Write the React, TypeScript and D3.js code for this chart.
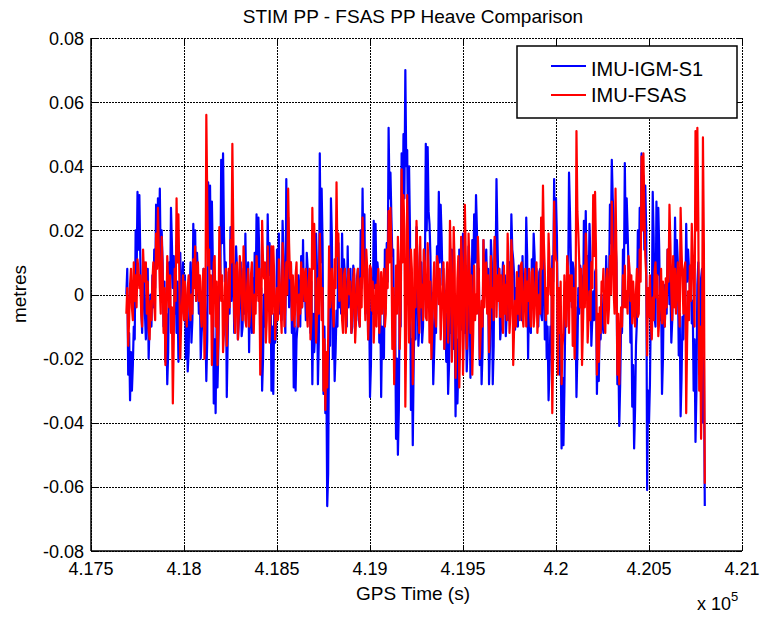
import React from 'react';
import * as d3 from 'd3';

// Time axis of the samples (GPS seconds)
const START_TIME = 417690;
const TIME_STEP = 10;
const MID_OFFSET = 5;

// Heave values in millimetres, samples at START_TIME + i*TIME_STEP
const stimHeaveMm = [
  0, -25, -33, -30, -10, 20, 32, 31, -4, 2, -6, -2, -20, 0, 6, 14, 28, 30, 33, 20,
  -10, -21, -28, 10, 27, 2, -6, -12, -21, 13, 2, -8, -20, -24, 0, -15, 22, 20, 13, -6,
  -20, -7, 3, -27, 35, 34, 29, -34, -37, -29, 7, 42, 44, 4, -32, 7, 21, 11, -12, 15,
  -14, 7, -13, 8, 19, 3, -18, -5, 5, 13, 25, 24, -15, -30, 0, 6, 25, 16, -30, -31,
  -15, 14, 19, 2, 23, -6, 36, 24, 9, -12, -29, -30, -10, 0, 12, 17, 4, 13, -5, -12,
  -28, -18, 19, -28, 44, 33, -31, -37, -66, -10, 30, -20, -27, -5, 16, 5, 19, 11, -5, 15,
  2, -12, 9, -10, 5, -8, 20, 33, 25, 5, -14, -32, 5, 23, 22, 10, -15, -32, -13, 14,
  16, 52, 38, 12, -17, -45, -50, 3, 44, 50, 70, 45, 40, -36, -47, -7, 21, -16, 3, -15,
  14, 47, 46, 22, -14, -28, -6, 15, 32, 28, 3, -17, -21, -31, -7, 14, -17, -38, -34, 14,
  -11, 19, -12, -24, 15, -26, 17, 25, 31, 0, -22, -28, 17, 9, 2, -28, 17, -28, 17, 36,
  3, -14, 4, 0, -13, -2, 10, 25, 11, -11, -7, 9, -6, 12, 2, 24, -20, -10, 11, 19,
  -2, -6, 7, -6, 16, -14, -20, -33, -10, 12, 36, 30, -12, -25, -48, -47, -7, 9, 38, 11,
  10, -12, -32, 2, 9, -2, 23, 26, 12, 22, -16, 1, 7, -31, -27, -14, -9, 1, 12, 7,
  28, 42, 24, 17, -28, -41, -9, 14, 41, 30, 8, -15, -35, -48, -16, 20, 27, 44, 37, 34,
  -61, -40, -4, 32, -7, 29, 27, -8, -31, 3, 1, 14, -3, -15, 9, 24, 17, -19, -38, -7,
  1, 22, 14, 1, -9, -30, -46, 3, -9, 5, -40, -66,
];
// samples at START_TIME + MID_OFFSET + i*TIME_STEP
const stimHeaveMidMm = [
  8, -12, -18, -22, -14, 4, 14, 12, -12, 10, -14, 8, -8, -10, -4, 2, 12, 14, 8, 10,
  4, -6, -18, -4, 16, 12, 6, 4, -12, -6, 10, 6, -4, -18, 10, -8, 4, -2, 6, 4,
  -12, 8, -8, -14, 10, 8, 10, -14, -8, -16, 0, 16, 18, 10, -14, -6, -2, 10, -6, 8,
  -8, 10, -10, -6, -2, 10, 2, -12, -6, -2, 6, 12, 2, -20, -10, -4, 6, 10, -10, -6,
  -12, 0, -6, -8, 12, -12, 8, -4, 10, 4, -10, -14, 6, -10, -4, -2, -8, 8, 6, 4,
  -6, -12, 8, -14, 10, 16, -10, -20, -56, -16, 18, -4, -18, -10, -4, -6, -2, 6, -10, -4,
  8, -10, 6, -8, 8, -10, 2, 8, -6, 8, 2, -22, -6, 2, 0, 6, 0, -10, -20, -4,
  4, 30, 24, 14, -4, -20, -36, -10, 20, 30, 40, 14, 20, -14, -20, -14, 10, -10, 10, -10,
  4, 20, 26, 12, 0, -18, -12, 4, 10, 18, 8, -2, -6, -22, -12, 8, -4, -14, -22, 10,
  -10, 10, 2, -16, 8, -14, 4, 10, 20, 8, -6, -18, 0, 14, 8, -16, 10, -16, 6, 18,
  8, -10, 10, 6, -6, -8, 2, 14, 6, 2, -10, 6, -8, -2, -4, 12, 0, -12, 2, 12,
  8, -10, 8, -8, 10, 2, -10, -24, -14, 4, 14, 18, 2, -14, -26, -30, -10, 0, 26, -4,
  8, -4, -18, -6, 6, -8, 8, 4, -2, 12, -8, -8, 8, -14, -8, 0, -12, -4, -2, 2,
  16, 30, 6, 10, -16, -28, -12, 4, 16, 20, 6, -4, -22, -36, -8, 4, 14, 26, 14, 20,
  -30, -28, -10, 18, -10, 6, 14, 0, -20, -10, -6, 8, 4, -8, -2, 6, 10, -6, -26, -14,
  -4, 4, 8, 6, -2, -14, -30, 10, -14, 8, -20,
];

const fsasHeaveMm = [
  -6, -16, 3, -4, 10, 6, 11, 2, -6, 14, 4, -6, -11, -2, 4, -3, 19, 27, 2, 18,
  -12, -22, 12, -4, -12, -34, 8, 30, 25, -20, -2, -8, -5, 2, -4, 0, 11, 15, 6, -2,
  -6, 4, -20, 56, 9, -6, -22, 10, -10, -22, 21, -2, -18, 2, -16, 8, 17, 47, -6, 9,
  -14, 12, -2, 15, -8, 3, -10, 6, -5, 0, 12, -2, -25, 23, 5, -15, 15, -15, 15, 15,
  -14, 2, 11, -5, 16, -10, 10, 33, 5, -8, -3, 6, -5, 0, 10, 8, -2, -5, 4, -14,
  27, 22, -15, 5, 19, -8, -30, -36, -29, 15, 2, -4, 11, 35, 19, 4, -8, 6, -12, 4,
  0, -12, 5, -15, 3, -6, 5, 24, 3, 14, -14, 9, -5, -15, 3, 3, -12, 7, 2, -10,
  14, 26, 27, -17, -28, 9, 18, -17, 39, 31, -35, 31, -15, 14, -28, 14, 23, -5, 18, 3,
  14, -7, 16, -15, -20, 2, -7, 12, -3, -14, 3, -17, 3, -15, 23, -21, 21, -26, 5, -29,
  18, -25, 28, -17, 19, -12, -25, 9, 0, 18, -20, -2, 17, 9, -6, -18, 12, 2, 18, -7,
  -2, -7, -5, 9, 3, 19, -12, 17, -22, -2, 7, 5, 9, -7, 2, -10, -2, -5, 7, -10,
  4, -12, 0, 24, 34, 7, 2, 19, 0, -37, 29, 11, -25, -12, -28, -12, -3, 12, -12, -2,
  -16, -20, 51, 19, -4, -22, 9, 19, -15, 1, 10, 31, 32, -25, -21, -12, 1, -9, 5, -9,
  12, 29, 1, 33, -25, -28, -4, 6, 9, 1, 12, -2, -9, -3, 1, -7, 14, 43, 44, 12,
  -19, -7, -9, -1, 7, -1, -13, 1, -9, -5, 5, 14, 28, 1, 12, 8, 2, -3, 27, 4,
  8, -37, 1, 9, 22, 1, 51, 52, -30, -45, 49, -59,
];
const fsasHeaveMidMm = [
  2, -8, 8, -8, -2, -4, 8, 6, -10, 6, 10, 4, -14, -8, 10, -8, 8, 14, -6, 8,
  2, -10, 4, 6, -4, -14, -2, 10, 6, -8, 6, 4, -10, 6, -8, -6, 2, -2, 10, 6,
  -10, 8, -10, 30, 14, 6, -8, 12, 4, -12, 8, 6, -12, 8, -6, -4, 10, 20, -12, 10,
  -6, 6, -8, 8, -10, 8, -6, 10, -12, -6, 6, 8, -12, 10, 10, -8, 6, -6, -6, 6,
  -6, -8, 4, -12, 8, -4, 0, 16, 10, 6, -10, 10, -10, -6, -4, 6, 8, -10, 8, -8,
  8, 10, -6, -6, 8, 2, -14, -18, -14, -4, 8, -10, 2, 12, -2, 8, -12, 8, -6, 8,
  4, -6, 8, -8, 8, -10, -4, 12, -8, 8, -6, 8, 4, -6, -10, 8, -6, -6, 8, -6,
  2, 10, 14, 2, -12, -6, 10, -4, 10, 20, -12, 14, -8, 8, -12, -4, 12, -12, -4, -8,
  10, -8, 8, 4, -10, 10, -10, 10, 8, -6, 10, -8, 10, -6, 10, -8, 10, -12, 12, -14,
  10, -10, 12, -8, 8, 6, -12, -8, -6, 8, -12, -10, -4, 10, 6, -8, -4, -8, 8, 6,
  8, 6, -12, -6, -8, 8, -6, 10, -10, -10, -6, -8, 10, -10, 8, 4, 8, -10, 8, -6,
  10, -6, -6, 8, 16, -8, -6, 10, 8, -16, 14, 10, 2, 4, -16, 6, -10, 8, 6, 6,
  2, -6, 26, 10, 8, -10, -4, 10, -8, -8, 2, 12, 14, -6, -4, 4, 8, -12, 8, -4,
  0, 14, -6, 12, -6, -14, -10, -4, -4, -6, 8, 6, 4, -10, 8, -6, 4, 20, 26, 6,
  2, 6, -14, -8, 10, 6, -8, 8, 4, -10, -4, 4, 16, -8, -4, -6, 10, -10, 14, -6,
  10, -14, -8, -2, 12, -10, 20, 24, -10, -20, 16,
];

const seriesNames = ['IMU-IGM-S1', 'IMU-FSAS'];
const seriesColors = ['#0000ff', '#ff0000'];

const xTickValues = [417500, 418000, 418500, 419000, 419500, 420000, 420500, 421000];
const xTickLabels = ['4.175', '4.18', '4.185', '4.19', '4.195', '4.2', '4.205', '4.21'];
const yTickValues = [-0.08, -0.06, -0.04, -0.02, 0, 0.02, 0.04, 0.06, 0.08];
const yTickLabels = ['-0.08', '-0.06', '-0.04', '-0.02', '0', '0.02', '0.04', '0.06', '0.08'];

const FONT = '"Liberation Sans", Arial, Helvetica, sans-serif';

type Pt = { t: number; v: number };

function mergeSamples(main: number[], mid: number[]): Pt[] {
  const out: Pt[] = [];
  main.forEach((v, i) => {
    out.push({ t: START_TIME + i * TIME_STEP, v });
    if (i < mid.length) out.push({ t: START_TIME + MID_OFFSET + i * TIME_STEP, v: mid[i] });
  });
  return out;
}

export default function App() {
  const W = 761;
  const H = 617;
  const L = 91;
  const R = 742;
  const T = 38;
  const B = 551;

  const x = d3.scaleLinear().domain([417500, 421000]).range([L, R]);
  const y = d3.scaleLinear().domain([-0.08, 0.08]).range([B, T]);
  const crisp = (p: number) => Math.round(p) + 0.5;

  const line = d3
    .line<Pt>()
    .x((d) => x(d.t))
    .y((d) => y(d.v / 1000));

  const series = [mergeSamples(stimHeaveMm, stimHeaveMidMm), mergeSamples(fsasHeaveMm, fsasHeaveMidMm)];
  const tickLen = 6;
  const dash = '2,1';

  return (
    <svg
      width={W}
      height={H}
      viewBox={`0 0 ${W} ${H}`}
      style={{ position: 'absolute', left: 0, top: 0, background: '#fff' }}
      fontFamily={FONT}
    >
      <rect x={0} y={0} width={W} height={H} fill="#fff" />
      {/* grid */}
      <g shapeRendering="crispEdges">
        {xTickValues.map((v, i) => (
          <line key={'gx' + i} x1={crisp(x(v))} x2={crisp(x(v))} y1={T} y2={B} stroke="#000" strokeWidth={1} strokeDasharray={dash} />
        ))}
        {yTickValues.map((v, i) => (
          <line key={'gy' + i} x1={L} x2={R} y1={crisp(y(v))} y2={crisp(y(v))} stroke="#000" strokeWidth={1} strokeDasharray={dash} />
        ))}
        {/* ticks */}
        {xTickValues.map((v, i) => (
          <g key={'tx' + i}>
            <line x1={crisp(x(v))} x2={crisp(x(v))} y1={B} y2={B - tickLen} stroke="#000" strokeWidth={1} />
            <line x1={crisp(x(v))} x2={crisp(x(v))} y1={T} y2={T + tickLen} stroke="#000" strokeWidth={1} />
          </g>
        ))}
        {yTickValues.map((v, i) => (
          <g key={'ty' + i}>
            <line x1={L} x2={L + tickLen} y1={crisp(y(v))} y2={crisp(y(v))} stroke="#000" strokeWidth={1} />
            <line x1={R} x2={R - tickLen} y1={crisp(y(v))} y2={crisp(y(v))} stroke="#000" strokeWidth={1} />
          </g>
        ))}
      </g>
      {/* data */}
      <g>
        {series.map((s, k) => (
          <path key={'s' + k} d={line(s) || ''} fill="none" stroke={seriesColors[k]} strokeWidth={2.2} strokeLinejoin="round" />
        ))}
      </g>
      {/* axes lines */}
      <line x1={L} x2={L} y1={T} y2={B} stroke="#000" strokeWidth={1.5} />
      <line x1={L} x2={R} y1={B} y2={B} stroke="#000" strokeWidth={1.5} />
      {/* tick labels */}
      {xTickValues.map((v, i) => (
        <text key={'lx' + i} x={x(v)} y={575} fontSize={18} textAnchor="middle" fill="#000">
          {xTickLabels[i]}
        </text>
      ))}
      {yTickValues.map((v, i) => (
        <text key={'ly' + i} x={84} y={y(v) + 6.5} fontSize={18} textAnchor="end" fill="#000">
          {yTickLabels[i]}
        </text>
      ))}
      {/* title & labels */}
      <text x={413} y={23} fontSize={19} textAnchor="middle" fill="#000">
        STIM PP - FSAS PP Heave Comparison
      </text>
      <text x={413} y={600} fontSize={19} textAnchor="middle" fill="#000">
        GPS Time (s)
      </text>
      <text transform={`translate(26, 294) rotate(-90)`} fontSize={19} textAnchor="middle" fill="#000">
        metres
      </text>
      <text x={697} y={610} fontSize={18} fill="#000">
        x 10
        <tspan dy={-9} fontSize={13}>5</tspan>
      </text>
      {/* legend */}
      <rect x={517} y={46} width={220} height={72} fill="#fff" stroke="#000" strokeWidth={1.5} />
      {seriesNames.map((n, k) => (
        <g key={'lg' + k}>
          <line x1={551} x2={586} y1={66 + k * 29} y2={66 + k * 29} stroke={seriesColors[k]} strokeWidth={2} />
          <text x={591} y={76 + k * 26} fontSize={20} fill="#000">
            {n}
          </text>
        </g>
      ))}
    </svg>
  );
}
